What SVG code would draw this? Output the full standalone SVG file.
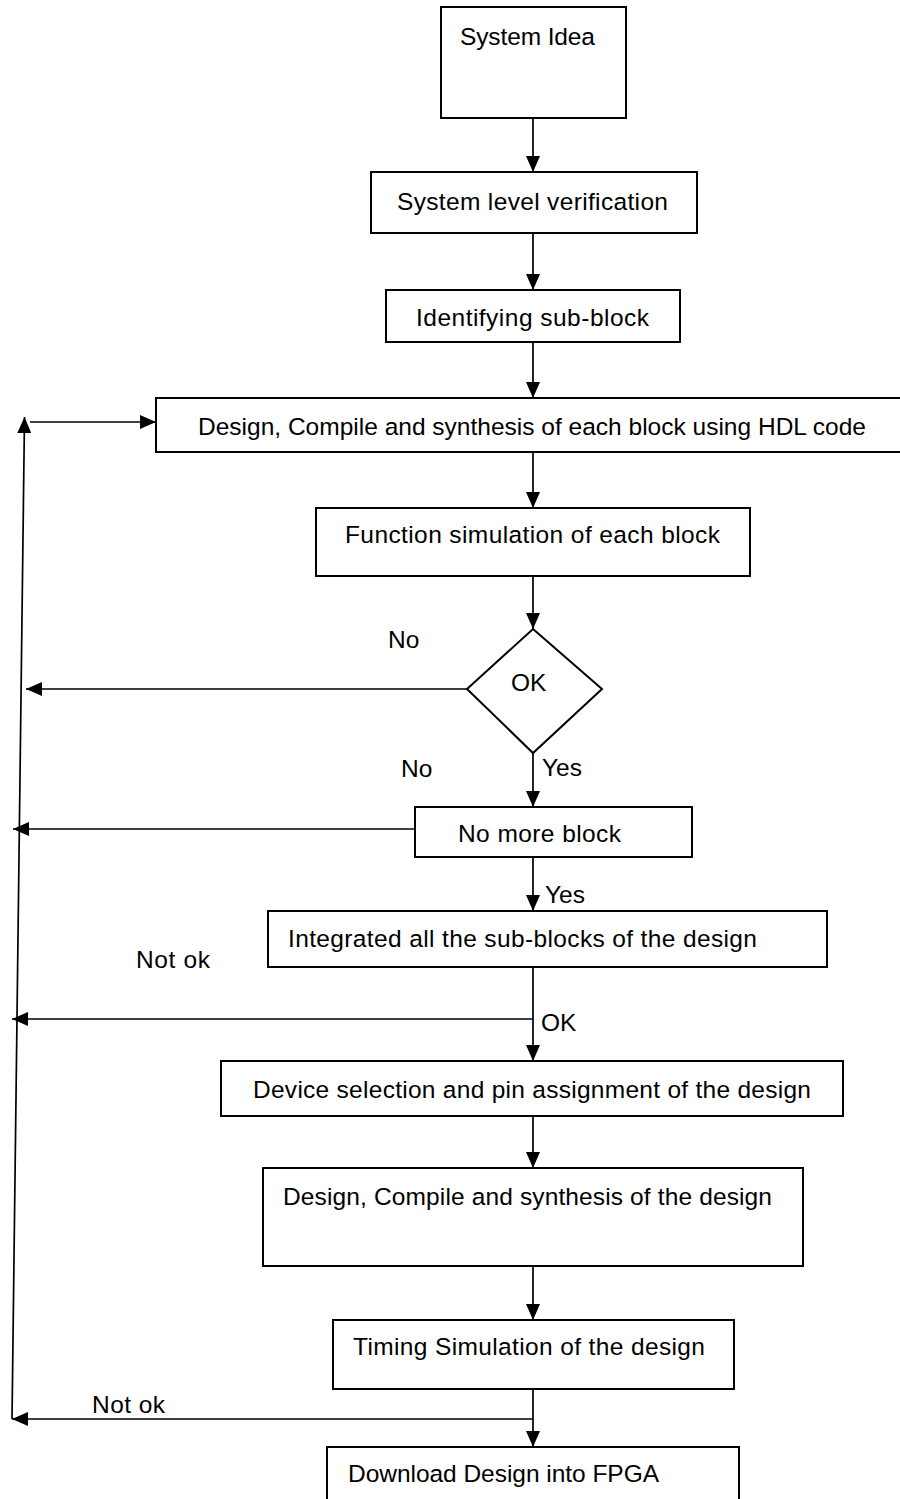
<svg xmlns="http://www.w3.org/2000/svg" width="900" height="1499" viewBox="0 0 900 1499">
<defs>
<style>
.box{fill:#fff;stroke:#000;stroke-width:2}
.arr{fill:none;stroke:#000;stroke-width:1.7;marker-end:url(#ah)}
text{font-family:"Liberation Sans",Arial,sans-serif;font-size:24.5px;fill:#000}
</style>
<marker id="ah" viewBox="0 0 16 14" refX="16" refY="7" markerWidth="16" markerHeight="14" markerUnits="userSpaceOnUse" orient="auto">
<path d="M0,0 L16,7 L0,14 Z" fill="#000"/>
</marker>
</defs>
<rect width="900" height="1499" fill="#fff"/>
<g id="connectors">
<line class="arr" x1="533" y1="118" x2="533" y2="172"/>
<line class="arr" x1="533" y1="233" x2="533" y2="290"/>
<line class="arr" x1="533" y1="342" x2="533" y2="398"/>
<line class="arr" x1="533" y1="452" x2="533" y2="508"/>
<line class="arr" x1="533" y1="576" x2="533" y2="629"/>
<line class="arr" x1="533" y1="753" x2="533" y2="807"/>
<line class="arr" x1="533" y1="857" x2="533" y2="911"/>
<line class="arr" x1="533" y1="967" x2="533" y2="1061"/>
<line class="arr" x1="533" y1="1116" x2="533" y2="1168"/>
<line class="arr" x1="533" y1="1266" x2="533" y2="1320"/>
<line class="arr" x1="533" y1="1389" x2="533" y2="1447"/>
<line class="arr" x1="467" y1="689" x2="26" y2="689"/>
<line class="arr" x1="415" y1="829" x2="13" y2="829"/>
<line class="arr" x1="533" y1="1019" x2="12" y2="1019"/>
<line class="arr" x1="533" y1="1419" x2="12" y2="1419"/>
<line class="arr" x1="12" y1="1419" x2="24.5" y2="417"/>
<line class="arr" x1="30" y1="422" x2="156" y2="422"/>
<text x="388" y="648">No</text>
<text x="401" y="777">No</text>
<text x="542" y="776">Yes</text>
<text x="545" y="903">Yes</text>
<text x="136" y="968" textLength="74">Not ok</text>
<text x="541" y="1031">OK</text>
<text x="92" y="1413" textLength="73">Not ok</text>
</g>
<g id="n1"><rect class="box" x="441" y="7" width="185" height="111"/><text x="460" y="45" textLength="135">System Idea</text></g>
<g id="n2"><rect class="box" x="371" y="172" width="326" height="61"/><text x="397" y="210" textLength="271">System level verification</text></g>
<g id="n3"><rect class="box" x="386" y="290" width="294" height="52"/><text x="416" y="326" textLength="233">Identifying sub-block</text></g>
<g id="n4"><rect class="box" x="156" y="398" width="745" height="54"/><text x="198" y="435" textLength="668">Design, Compile and synthesis of each block using HDL code</text></g>
<g id="n5"><rect class="box" x="316" y="508" width="434" height="68"/><text x="345" y="543" textLength="375">Function simulation of each block</text></g>
<g id="n6"><polygon class="box" points="533,629 602,689 533,753 467,689"/><text x="511" y="691">OK</text></g>
<g id="n7"><rect class="box" x="415" y="807" width="277" height="50"/><text x="458" y="842" textLength="163">No more block</text></g>
<g id="n8"><rect class="box" x="268" y="911" width="559" height="56"/><text x="288" y="947" textLength="469">Integrated all the sub-blocks of the design</text></g>
<g id="n9"><rect class="box" x="221" y="1061" width="622" height="55"/><text x="253" y="1098" textLength="558">Device selection and pin assignment of the design</text></g>
<g id="n10"><rect class="box" x="263" y="1168" width="540" height="98"/><text x="283" y="1205" textLength="489">Design, Compile and synthesis of the design</text></g>
<g id="n11"><rect class="box" x="333" y="1320" width="401" height="69"/><text x="353" y="1355" textLength="352">Timing Simulation of the design</text></g>
<g id="n12"><rect class="box" x="327" y="1447" width="412" height="60"/><text x="348" y="1482" textLength="311">Download Design into FPGA</text></g>
</svg>
